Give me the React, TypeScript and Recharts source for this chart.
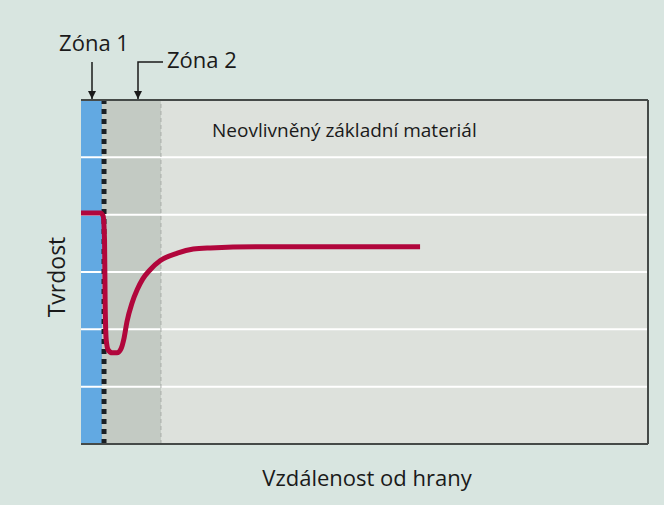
import { LineChart, Line, XAxis, YAxis, ReferenceArea, ReferenceLine } from "recharts";

// distance from edge (0..100) and hardness (0..6)
const distance = [0, 3.4, 3.9, 4.15, 4.25, 4.45, 4.8, 5.5, 6.35, 7.05, 7.6, 8.1, 9.0, 9.9, 10.9, 12.2, 14.0, 17.0, 19.8, 22.8, 31.6, 59.8];
const hardness = [4.03, 4.03, 3.98, 3.56, 2.51, 1.81, 1.64, 1.59, 1.59, 1.66, 1.85, 2.13, 2.46, 2.69, 2.88, 3.04, 3.2, 3.33, 3.4, 3.42, 3.44, 3.44];
const gridTicks = [1, 2, 3, 4, 5];

const zone1End = 3.7;
const boundary = 4.06;
const zone2End = 14.1;

const data = distance.map((d, i) => ({ d, h: hardness[i] }));

const font = "'Open Sans', 'Noto Sans', sans-serif";

export default function App() {
	return (
		<div style={{ position: "absolute", left: 0, top: 0, width: 664, height: 505, background: "#d8e5e0" }}>
			<LineChart width={664} height={505} data={data} margin={{ top: 100, right: 16, bottom: 61, left: 81 }}>
				<XAxis type="number" dataKey="d" domain={[0, 100]} hide />
				<YAxis type="number" domain={[0, 6]} hide />
				<ReferenceArea x1={0} x2={100} y1={0} y2={6} fill="#dde1dc" fillOpacity={1} stroke="none" />
				<ReferenceArea x1={0} x2={zone1End} y1={0} y2={6} fill="#62a9e2" fillOpacity={1} stroke="none" />
				<ReferenceArea x1={zone1End} x2={zone2End} y1={0} y2={6} fill="#c3cac3" fillOpacity={1} stroke="none" />
				{gridTicks.map((t) => (
					<ReferenceLine key={t} y={t} stroke="#ffffff" strokeWidth={2} />
				))}
				<ReferenceLine x={zone2End} stroke="#a9aea9" strokeDasharray="4 3" strokeWidth={1} />
				<ReferenceLine x={boundary} stroke="#1a1f24" strokeDasharray="5 5" strokeWidth={5} />
				<ReferenceLine y={6} stroke="#454a48" strokeWidth={2} />
				<ReferenceLine y={0} stroke="#454a48" strokeWidth={2} />
				<ReferenceLine x={100} stroke="#454a48" strokeWidth={2} />
				<Line type="monotone" dataKey="h" stroke="#b1063c" strokeWidth={5} dot={false} isAnimationActive={false} />
			</LineChart>
			<svg width={664} height={505} style={{ position: "absolute", left: 0, top: 0, pointerEvents: "none" }}>
				<defs>
					<marker id="arr" viewBox="0 0 10 10" refX="10" refY="5" markerWidth="8" markerHeight="11" orient="auto" markerUnits="userSpaceOnUse">
						<path d="M0,0 L10,5 L0,10 z" fill="#1a1a1a" />
					</marker>
				</defs>
				<text x={94} y={51} textAnchor="middle" fontFamily={font} fontSize={22} fill="#1a1a1a">Zóna 1</text>
				<line x1={92} y1={62} x2={92} y2={99} stroke="#1a1a1a" strokeWidth={1.5} markerEnd="url(#arr)" />
				<text x={167} y={68} fontFamily={font} fontSize={22} fill="#1a1a1a">Zóna 2</text>
				<polyline points="163,62 138,62 138,99" fill="none" stroke="#1a1a1a" strokeWidth={1.5} markerEnd="url(#arr)" />
				<text x={212} y={137} fontFamily={font} fontSize={19} fill="#1a1a1a">Neovlivněný základní materiál</text>
				<text x={367} y={486} textAnchor="middle" fontFamily={font} fontSize={22} fill="#1a1a1a">Vzdálenost od hrany</text>
				<text x={0} y={0} transform="translate(65,277) rotate(-90)" textAnchor="middle" fontFamily={font} fontSize={23} fill="#1a1a1a">Tvrdost</text>
			</svg>
		</div>
	);
}
